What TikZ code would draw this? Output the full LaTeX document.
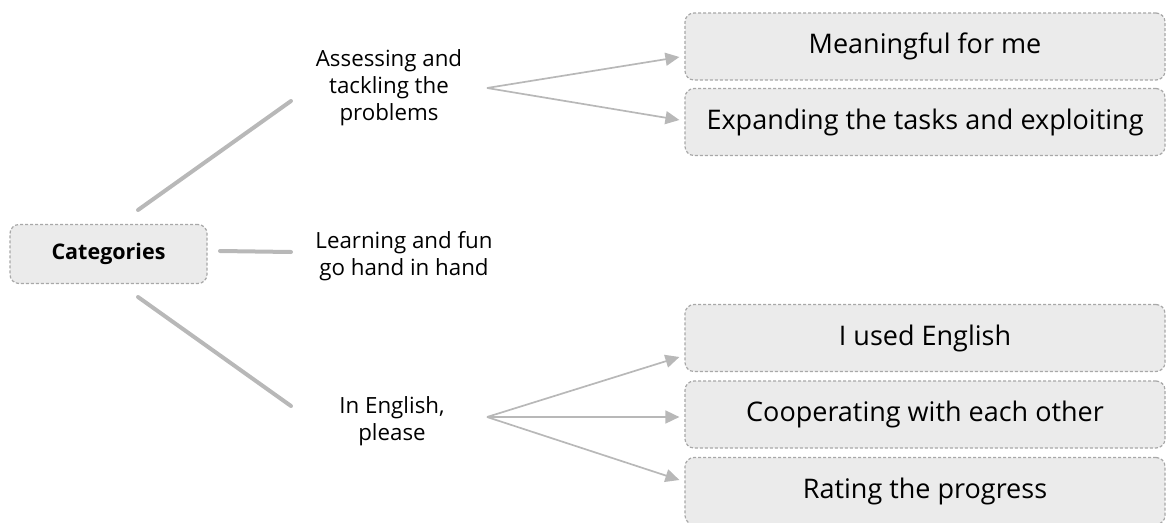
\documentclass[tikz,border=0pt]{standalone}
\usepackage{fontspec}
\setmainfont{Open Sans}
\usetikzlibrary{calc,arrows.meta}
\definecolor{boxfill}{HTML}{EBEBEB}
\definecolor{boxline}{HTML}{A8A8A8}
\definecolor{conn}{HTML}{B8B8B8}
\tikzset{
  catbox/.style={draw=boxline, fill=boxfill, dash pattern=on 3pt off 2pt, line width=1.2pt, rounded corners=9pt, minimum width=197pt, minimum height=59pt, font=\fontsize{21.5}{26}\selectfont\bfseries, inner sep=0pt},
  itembox/.style={draw=boxline, fill=boxfill, dash pattern=on 3pt off 2pt, line width=1.2pt, rounded corners=9pt, minimum width=480pt, minimum height=67pt, font=\fontsize{27}{32}\selectfont, inner sep=0pt},
  lab/.style={align=center, font=\fontsize{22.3}{27}\selectfont, inner sep=0pt},
  thickline/.style={conn, line width=4pt, line cap=round},
  arr/.style={conn, line width=1.7pt, -{Triangle[length=14pt,width=13pt]}}
}
\begin{document}
\begin{tikzpicture}[x=1pt,y=-1pt]
\useasboundingbox (0,0) rectangle (1166,522);
\node[catbox] (cat) at (108.5,254) {Categories};
\node[lab] (l1) at (389,88) {Assessing and\\tackling the\\problems};
\node[lab] (l2) at (404,256) {Learning and fun\\go hand in hand};
\node[lab] (l3) at (392,421) {In English,\\please};
\node[itembox] (m1) at (925,46.5) {Meaningful for me};
\node[itembox] (m2) at (925,122) {Expanding the tasks and exploiting};
\node[itembox] (e1) at (925,338) {I used English};
\node[itembox] (e2) at (925,414.5) {Cooperating with each other};
\node[itembox] (e3) at (925,491) {Rating the progress};
% thick connectors
\coordinate (c1s) at (138,210);
\coordinate (c1e) at (291,101);
\coordinate (c2s) at (220,251);
\coordinate (c2e) at (291,252);
\coordinate (c3s) at (138,297);
\coordinate (c3e) at (291,406);
\draw[thickline] (c1s) -- (c1e);
\draw[thickline] (c2s) -- (c2e);
\draw[thickline] (c3s) -- (c3e);
% arrows
\coordinate (o1) at (487,88);
\coordinate (o2) at (487,417);
\draw[arr] (o1) -- ($(m1.west)+(-5,10.5)$);
\draw[arr] (o1) -- ($(m2.west)+(-5,-2)$);
\draw[arr] (o2) -- ($(e1.west)+(-5,19)$);
\draw[arr] (o2) -- ($(e2.west)+(-5,2.5)$);
\draw[arr] (o2) -- ($(e3.west)+(-5,-11)$);
\end{tikzpicture}
\end{document}
